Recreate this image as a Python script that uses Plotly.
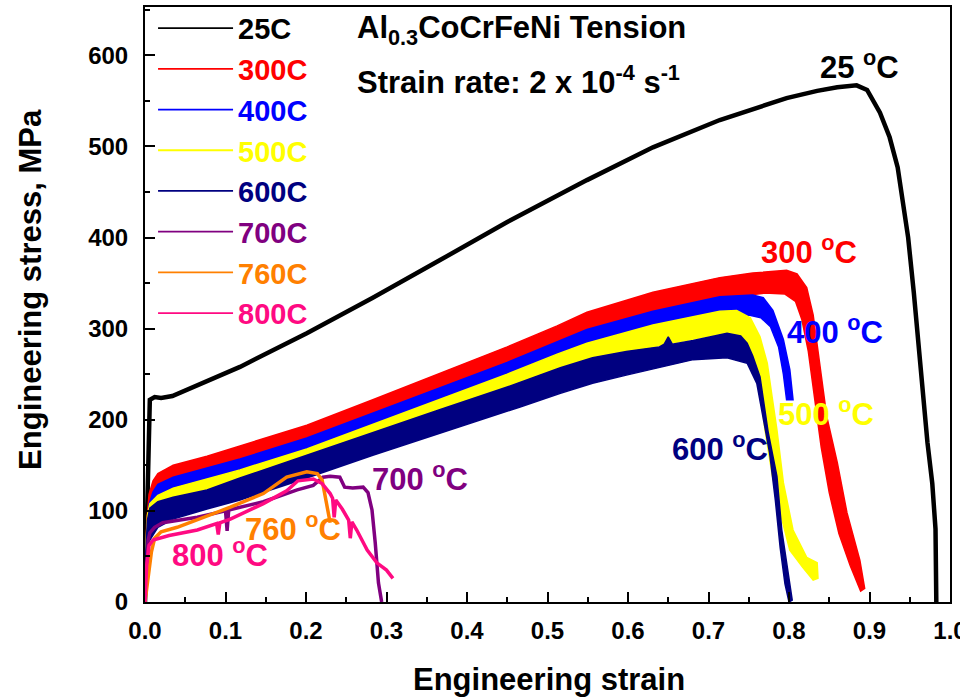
import plotly.graph_objects as go

# ---------------- data: engineering strain / engineering stress (MPa) ----------------
# 25 C
s25_strain = [0.000, 0.004, 0.006, 0.012, 0.020, 0.034, 0.060, 0.118, 0.201, 0.283, 0.366,
              0.450, 0.549, 0.631, 0.714, 0.760, 0.797, 0.835, 0.860, 0.884, 0.897, 0.913,
              0.925, 0.935, 0.942, 0.948, 0.955, 0.960, 0.966, 0.972, 0.978, 0.982, 0.983]
s25_stress = [0, 150, 222, 225, 224, 226, 236, 258, 295, 334, 375,
              417, 463, 499, 529, 543, 553, 561, 565, 567, 562, 537,
              510, 477, 434, 400, 340, 290, 230, 175, 130, 80, 0]

# 300 C serrated band: upper and lower envelopes
s300_up_strain = [0.000, 0.002, 0.005, 0.010, 0.016, 0.035, 0.077, 0.118, 0.201, 0.283, 0.366,
                  0.450, 0.512, 0.549, 0.631, 0.714, 0.755, 0.797, 0.810, 0.822, 0.830, 0.838,
                  0.847, 0.860, 0.872, 0.888, 0.894]
s300_up_stress = [0, 85, 118, 133, 141, 150, 160, 171, 194, 222, 251,
                  280, 303, 318, 340, 356, 361, 364, 360, 345, 315, 262,
                  203, 153, 98, 46, 15]
s300_lo_strain = [0.000, 0.003, 0.008, 0.016, 0.035, 0.077, 0.118, 0.201, 0.283, 0.366, 0.450,
                  0.512, 0.549, 0.631, 0.714, 0.770, 0.795, 0.808, 0.816, 0.824, 0.832, 0.840,
                  0.850, 0.862, 0.876, 0.889]
s300_lo_stress = [0, 55, 95, 115, 126, 136, 147, 170, 198, 227, 256,
                  279, 294, 316, 333, 339, 338, 330, 310, 275, 225, 170,
                  120, 75, 40, 12]

# 400 C
s400_up_strain = [0.000, 0.002, 0.005, 0.010, 0.016, 0.035, 0.077, 0.118, 0.201, 0.283, 0.366,
                  0.450, 0.512, 0.549, 0.631, 0.714, 0.755, 0.768, 0.780, 0.793, 0.801, 0.805]
s400_up_stress = [0, 75, 107, 121, 129, 137, 147, 157, 180, 207, 235,
                  263, 285, 299, 319, 335, 337, 334, 320, 288, 255, 222]
s400_lo_strain = [0.000, 0.003, 0.008, 0.016, 0.035, 0.077, 0.118, 0.201, 0.283, 0.366, 0.450,
                  0.512, 0.549, 0.631, 0.714, 0.750, 0.765, 0.777, 0.787, 0.793, 0.797]
s400_lo_stress = [0, 50, 88, 106, 115, 124, 134, 157, 184, 212, 240,
                  262, 276, 296, 312, 315, 312, 302, 280, 250, 222]

# 500 C
s500_up_strain = [0.000, 0.001, 0.003, 0.006, 0.016, 0.035, 0.077, 0.118, 0.201, 0.283, 0.366,
                  0.450, 0.512, 0.549, 0.631, 0.714, 0.735, 0.752, 0.764, 0.773, 0.779, 0.785,
                  0.793, 0.805, 0.822, 0.835, 0.836]
s500_up_stress = [0, 60, 95, 108, 117, 125, 135, 145, 168, 195, 222,
                  250, 272, 284, 304, 319, 320, 312, 291, 262, 225, 189,
                  131, 79, 49, 43, 26]
s500_lo_strain = [0.000, 0.002, 0.006, 0.016, 0.035, 0.077, 0.118, 0.201, 0.283, 0.366, 0.450,
                  0.549, 0.631, 0.714, 0.735, 0.748, 0.757, 0.764, 0.770, 0.779, 0.789, 0.801,
                  0.817, 0.830]
s500_lo_stress = [0, 50, 80, 92, 100, 111, 121, 144, 171, 198, 226,
                  260, 280, 294, 292, 280, 262, 230, 190, 140, 98, 57,
                  38, 24]

# 600 C
s600_up_strain = [0.000, 0.001, 0.003, 0.006, 0.016, 0.035, 0.077, 0.118, 0.201, 0.283, 0.366,
                  0.450, 0.516, 0.556, 0.598, 0.639, 0.645, 0.650, 0.655, 0.681, 0.723, 0.740,
                  0.748, 0.755, 0.764, 0.774, 0.785, 0.791, 0.797, 0.804]
s600_up_stress = [0, 55, 90, 103, 110, 115, 123, 136, 161, 186, 211,
                  236, 257, 268, 275, 280, 283, 291, 283, 287, 295, 292,
                  284, 270, 247, 187, 138, 79, 43, 2]
s600_lo_strain = [0.000, 0.002, 0.006, 0.016, 0.035, 0.077, 0.118, 0.201, 0.283, 0.366, 0.466,
                  0.516, 0.556, 0.598, 0.640, 0.681, 0.723, 0.748, 0.760, 0.768, 0.776, 0.783,
                  0.789, 0.795, 0.800]
s600_lo_stress = [0, 40, 68, 82, 91, 102, 112, 136, 161, 185, 214,
                  229, 240, 249, 258, 266, 268, 262, 240, 203, 163, 112,
                  60, 20, 0]

# 700 C
s700_strain = [0.000, 0.002, 0.004, 0.006, 0.012, 0.022, 0.065, 0.100, 0.102, 0.104, 0.147,
               0.189, 0.209, 0.221, 0.230, 0.242, 0.248, 0.258, 0.271, 0.277, 0.282, 0.286,
               0.290, 0.294]
s700_stress = [0, 45, 68, 76, 82, 87, 93, 100, 78, 101, 110,
               123, 128, 137, 138, 137, 126, 125, 126, 120, 101, 65,
               21, 0]

# 760 C
s760_strain = [0.000, 0.004, 0.008, 0.012, 0.020, 0.040, 0.065, 0.106, 0.147, 0.176, 0.201,
               0.214, 0.220, 0.224, 0.228, 0.230]
s760_stress = [0, 30, 55, 70, 77, 82, 90, 104, 119, 137, 143,
               141, 134, 115, 97, 87]

# 800 C
s800_strain = [0.000, 0.002, 0.005, 0.010, 0.030, 0.065, 0.089, 0.091, 0.093, 0.106, 0.147,
               0.176, 0.190, 0.209, 0.220, 0.230, 0.233, 0.235, 0.237, 0.245, 0.253, 0.255,
               0.257, 0.263, 0.276, 0.288, 0.300, 0.308]
s800_stress = [0, 40, 62, 68, 73, 79, 86, 74, 87, 91, 108,
               122, 133, 135, 130, 119, 114, 93, 112, 102, 90, 70,
               88, 79, 57, 43, 35, 26]

legend_labels = ["25C", "300C", "400C", "500C", "600C", "700C", "760C", "800C"]
colors = ["#000000", "#FF0000", "#0000FF", "#FFFF00", "#000080", "#800080", "#FF8000", "#FF0A82"]

x_ticks = [0.0, 0.1, 0.2, 0.3, 0.4, 0.5, 0.6, 0.7, 0.8, 0.9, 1.0]
x_ticktext = ["0.0", "0.1", "0.2", "0.3", "0.4", "0.5", "0.6", "0.7", "0.8", "0.9", "1.0"]
y_ticks = [0, 100, 200, 300, 400, 500, 600]

# curve labels: text, anchor strain, anchor stress
curve_labels = [
    ("25 <sup>o</sup>C", 0.888, 589),
    ("300 <sup>o</sup>C", 0.825, 386),
    ("400 <sup>o</sup>C", 0.857, 299),
    ("500 <sup>o</sup>C", 0.846, 209),
    ("600 <sup>o</sup>C", 0.714, 170),
    ("700 <sup>o</sup>C", 0.342, 137),
    ("760 <sup>o</sup>C", 0.184, 82),
    ("800 <sup>o</sup>C", 0.093, 54),
]

FONT = "Liberation Sans, Arial, sans-serif"

fig = go.Figure()

# legend entries (line samples only, drawn first)
for i, (lab, c) in enumerate(zip(legend_labels, colors)):
    fig.add_trace(go.Scatter(x=[None], y=[None], mode="lines", fill="none",
                             line=dict(color=c, width=1.8),
                             name=f"<span style='color:{c}'>{lab}</span>",
                             legendrank=i + 1))

# room temperature curve
fig.add_trace(go.Scatter(x=s25_strain, y=s25_stress, mode="lines",
                         line=dict(color=colors[0], width=4.5), showlegend=False,
                         hoverinfo="skip"))

# serrated high-temperature curves drawn as filled bands
bands = [
    (s300_up_strain, s300_up_stress, s300_lo_strain, s300_lo_stress, colors[1]),
    (s400_up_strain, s400_up_stress, s400_lo_strain, s400_lo_stress, colors[2]),
    (s500_up_strain, s500_up_stress, s500_lo_strain, s500_lo_stress, colors[3]),
    (s600_up_strain, s600_up_stress, s600_lo_strain, s600_lo_stress, colors[4]),
]
for ue, us, le, ls, c in bands:
    fig.add_trace(go.Scatter(x=list(ue) + list(reversed(le)),
                             y=list(us) + list(reversed(ls)),
                             mode="lines", fill="toself", fillcolor=c,
                             line=dict(color=c, width=1.5), showlegend=False,
                             hoverinfo="skip"))

for xs, ys, c in [(s700_strain, s700_stress, colors[5]),
                  (s760_strain, s760_stress, colors[6]),
                  (s800_strain, s800_stress, colors[7])]:
    fig.add_trace(go.Scatter(x=xs, y=ys, mode="lines",
                             line=dict(color=c, width=3.5), showlegend=False,
                             hoverinfo="skip"))

for idx, (text, sx, sy) in enumerate(curve_labels):
    fig.add_annotation(x=sx, y=sy, xref="x", yref="y", text=text, showarrow=False,
                       xanchor="center", yanchor="middle",
                       font=dict(family=FONT, size=31, color=colors[idx], weight="bold"))

fig.add_annotation(x=0.261, y=628, xref="x", yref="y", xanchor="left", yanchor="middle",
                   text="Al<sub>0.3</sub>CoCrFeNi Tension", showarrow=False,
                   font=dict(family=FONT, size=31, color="black", weight="bold"))
fig.add_annotation(x=0.261, y=573, xref="x", yref="y", xanchor="left", yanchor="middle",
                   text="Strain rate: 2 x 10<sup>-4</sup> s<sup>-1</sup>", showarrow=False,
                   font=dict(family=FONT, size=31, color="black", weight="bold"))

# axis titles
fig.add_annotation(x=0.502, y=-0.131, xref="paper", yref="paper", text="Engineering strain",
                   showarrow=False, xanchor="center", yanchor="middle",
                   font=dict(family=FONT, size=31, color="black", weight="bold"))
fig.add_annotation(x=-0.143, y=0.526, xref="paper", yref="paper",
                   text="Engineering stress, MPa", textangle=-90,
                   showarrow=False, xanchor="center", yanchor="middle",
                   font=dict(family=FONT, size=31, color="black", weight="bold"))

axis_common = dict(showline=True, linecolor="black", linewidth=2, mirror=True,
                   ticks="inside", tickcolor="black", tickwidth=2, ticklen=10,
                   showgrid=False, zeroline=False, ticklabeloverflow="allow",
                   automargin=False,
                   tickfont=dict(family=FONT, size=24, color="black", weight="bold"))

fig.update_xaxes(range=[0, 1.0], tickvals=x_ticks, ticktext=x_ticktext,
                 minor=dict(ticks="inside", ticklen=5, tickwidth=2, tickcolor="black",
                            dtick=0.05, showgrid=False),
                 ticklabelstandoff=6, **axis_common)
fig.update_yaxes(range=[0, 653], tickvals=y_ticks,
                 minor=dict(ticks="inside", ticklen=5, tickwidth=2, tickcolor="black",
                            dtick=50, showgrid=False),
                 ticklabelstandoff=10, **axis_common)

fig.update_layout(
    width=960, height=700,
    margin=dict(l=145, r=10, t=7, b=98, autoexpand=False),
    plot_bgcolor="white", paper_bgcolor="white",
    font=dict(family=FONT),
    legend=dict(x=0.01, y=0.996, xanchor="left", yanchor="top",
                xref="paper", yref="container",
                bgcolor="rgba(0,0,0,0)", borderwidth=0,
                itemwidth=75, tracegroupgap=0,
                font=dict(family=FONT, size=29, weight="bold")),
)

fig.write_html("out.html")
